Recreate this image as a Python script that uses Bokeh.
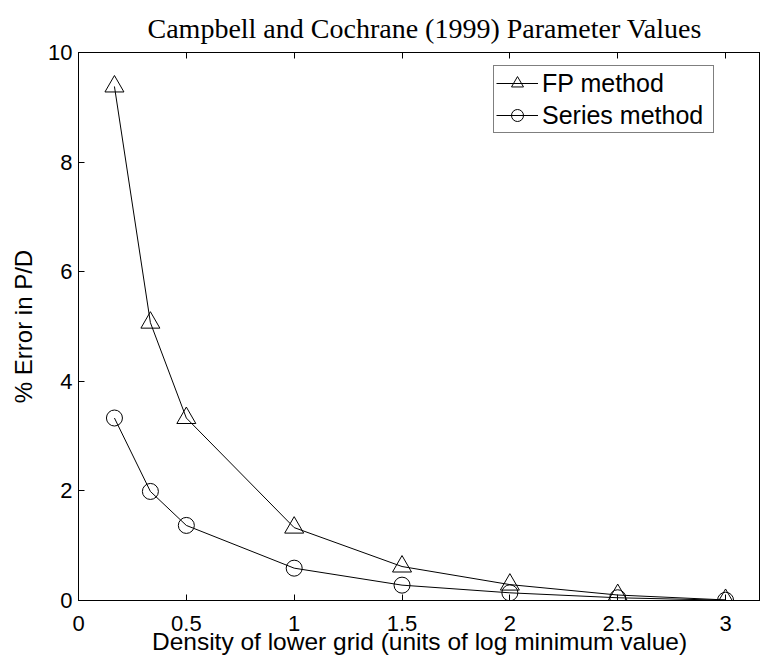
from bokeh.plotting import figure
from bokeh.models import (Range1d, FixedTicker, LinearAxis, Legend, LegendItem)
from bokeh.embed import file_html
from bokeh.resources import INLINE

# ---- data ----
density = [1/6, 1/3, 0.5, 1.0, 1.5, 2.0, 2.5, 3.0]
fp_error = [9.38, 5.07, 3.33, 1.33, 0.62, 0.29, 0.10, 0.01]
series_error = [3.33, 1.99, 1.37, 0.59, 0.28, 0.14, 0.05, 0.005]
x_ticks = [0, 0.5, 1, 1.5, 2, 2.5, 3]
x_tick_labels = ["0", "0.5", "1", "1.5", "2", "2.5", "3"]
y_ticks = [0, 2, 4, 6, 8, 10]
y_tick_labels = ["0", "2", "4", "6", "8", "10"]

TICK_FONT = "Liberation Sans"

p = figure(frame_width=682, frame_height=548,
           x_range=Range1d(0, 3.162), y_range=Range1d(0, 10),
           output_backend="svg", toolbar_location=None,
           min_border_left=78, min_border_right=0, min_border_top=52,
           min_border_bottom=58,
           title="Campbell and Cochrane (1999) Parameter Values")
p.title.text_font = "Liberation Serif"
p.title.text_font_size = "28px"
p.title.text_font_style = "normal"
p.title.align = "left"
p.title.offset = 69
p.title.standoff = 18
p.title.text_color = "black"

p.xgrid.visible = False
p.ygrid.visible = False
p.outline_line_color = "black"
p.outline_line_width = 1
p.background_fill_color = "white"
p.border_fill_color = "white"

for ax in (p.xaxis[0], p.yaxis[0]):
    ax.axis_line_color = "black"
    ax.axis_line_width = 1
    ax.major_tick_in = 6
    ax.major_tick_out = 0
    ax.minor_tick_line_color = None
    ax.major_tick_line_color = "black"
    ax.major_label_text_font = TICK_FONT
    ax.major_label_text_font_size = "22px"
    ax.major_label_text_color = "black"
    ax.axis_label_text_font = TICK_FONT
    ax.axis_label_text_font_size = "24px"
    ax.axis_label_text_font_style = "normal"
    ax.axis_label_text_color = "black"

p.xaxis[0].ticker = FixedTicker(ticks=x_ticks)
p.xaxis[0].major_label_overrides = dict(zip(x_ticks, x_tick_labels))
p.xaxis[0].axis_label = "Density of lower grid (units of log minimum value)"
p.xaxis[0].axis_label_text_font_size = "24.5px"
p.xaxis[0].major_label_standoff = 15
p.xaxis[0].axis_label_standoff = -6

p.yaxis[0].ticker = FixedTicker(ticks=y_ticks)
p.yaxis[0].major_label_overrides = dict(zip(y_ticks, y_tick_labels))
p.yaxis[0].axis_label = "% Error in P/D"
p.yaxis[0].major_label_standoff = 6
p.yaxis[0].axis_label_standoff = 8

# top ticks (inward, no labels)
top = LinearAxis(ticker=FixedTicker(ticks=x_ticks), major_tick_in=6, major_tick_out=0,
                 minor_tick_line_color=None,
                 major_label_overrides={t: "" for t in x_ticks},
                 major_label_standoff=0, axis_line_color="black")
p.add_layout(top, "above")

l1 = p.line(density, fp_error, line_color="black", line_width=1)
s1 = p.scatter(density, fp_error, marker="triangle", size=19,
               line_color="black", fill_alpha=0, line_width=1)
l2 = p.line(density, series_error, line_color="black", line_width=1)
s2 = p.scatter(density, series_error, marker="circle", size=16,
               line_color="black", fill_alpha=0, line_width=1)

legend = Legend(items=[LegendItem(label="FP method", renderers=[l1, s1]),
                       LegendItem(label="Series method", renderers=[l2, s2])],
                location=(415, 467))
legend.label_text_font = TICK_FONT
legend.label_text_font_size = "25px"
legend.label_text_color = "black"
legend.glyph_width = 42
legend.glyph_height = 30
legend.label_height = 30
legend.label_width = 169
legend.label_standoff = 4
legend.spacing = 2
legend.padding = 2
legend.margin = 0
legend.border_line_color = "black"
legend.border_line_width = 1
legend.background_fill_color = "white"
legend.background_fill_alpha = 1
p.add_layout(legend, "center")

open("out.html", "w").write(file_html(p, INLINE))
